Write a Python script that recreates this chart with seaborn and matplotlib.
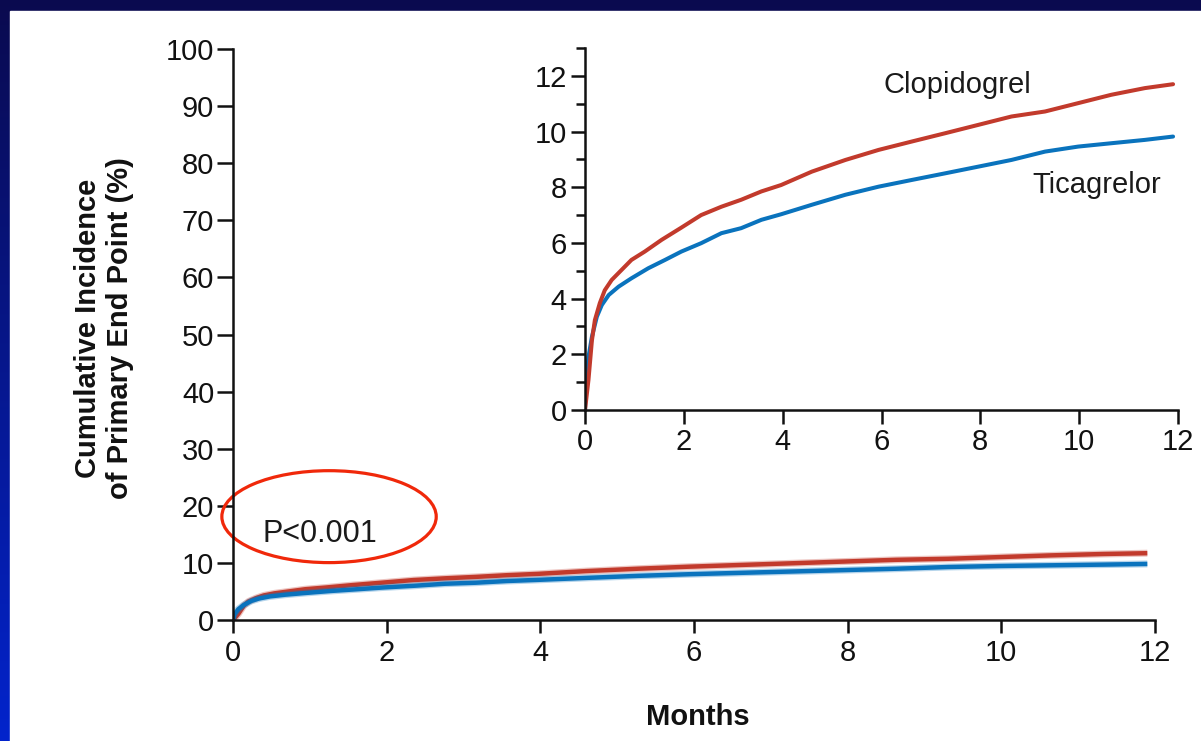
import numpy as np
import pandas as pd
import matplotlib
matplotlib.use("Agg")
import matplotlib.pyplot as plt
import matplotlib.patheffects as pe
from matplotlib.patches import Ellipse, Rectangle
from matplotlib import font_manager
import seaborn as sns

# Kaplan-Meier style cumulative incidence (%) by month, one curve per arm
clop_months = [0, 0.07, 0.14, 0.2, 0.3, 0.4, 0.54, 0.74, 0.94, 1.21, 1.55,
               1.95, 2.35, 2.76, 3.16, 3.57, 3.97, 4.59, 5.27, 5.94, 6.61,
               7.29, 7.96, 8.63, 9.31, 9.98, 10.65, 11.33, 11.9]
clopidogrel = [0, 1.08, 2.5, 3.23, 3.84, 4.3, 4.67, 5.03, 5.39, 5.69, 6.11,
               6.55, 7.0, 7.3, 7.55, 7.85, 8.08, 8.56, 8.98, 9.34, 9.64,
               9.94, 10.24, 10.54, 10.72, 11.02, 11.32, 11.56, 11.7]

tica_months = [0, 0.02, 0.07, 0.14, 0.24, 0.34, 0.48, 0.68, 0.94, 1.28, 1.62,
               1.95, 2.35, 2.76, 3.16, 3.57, 3.97, 4.59, 5.27, 5.94, 6.61,
               7.29, 7.96, 8.63, 9.31, 9.98, 10.65, 11.33, 11.9]
ticagrelor = [0, 1.0, 1.9, 2.63, 3.35, 3.77, 4.13, 4.43, 4.73, 5.09, 5.39,
              5.69, 5.99, 6.35, 6.53, 6.83, 7.03, 7.37, 7.73, 8.02, 8.26,
              8.5, 8.74, 8.98, 9.28, 9.46, 9.58, 9.7, 9.82]

series_names = ["Clopidogrel", "Ticagrelor"]
colors = {"Clopidogrel": "#c23a2c", "Ticagrelor": "#0a73bd"}

main_yticks = list(range(0, 101, 10))
main_xticks = list(range(0, 13, 2))
inset_yticks = list(range(0, 13, 2))
inset_yminor = list(range(1, 14, 2))
inset_xticks = list(range(0, 13, 2))

p_label = "P<0.001"

df = pd.DataFrame({
    "Months": clop_months + tica_months,
    "Incidence": clopidogrel + ticagrelor,
    "Group": [series_names[0]] * len(clop_months) + [series_names[1]] * len(tica_months),
})

sns.set_theme(style="ticks")
plt.rcParams["font.family"] = ["Liberation Sans", "DejaVu Sans"]


def has_font(name):
    try:
        font_manager.findfont(name, fallback_to_default=False)
        return True
    except Exception:
        return False


narrow = "Liberation Sans Narrow" if has_font("Liberation Sans Narrow") else "Liberation Sans"

W, H = 1201, 741
fig = plt.figure(figsize=(W / 100, H / 100), dpi=100)

# slide background: navy-to-blue gradient with a white panel
ax_bg = fig.add_axes([0, 0, 1, 1], zorder=-10)
top = np.array([0.04, 0.04, 0.31])
bottom = np.array([0.01, 0.14, 0.80])
t = np.linspace(0, 1, 256)[:, None, None]
grad = top * (1 - t) + bottom * t
ax_bg.imshow(grad, aspect="auto", extent=[0, 1, 0, 1], origin="upper")
ax_bg.add_patch(Rectangle((10 / W, 0), 1, (H - 11) / H, color="white",
                          transform=ax_bg.transAxes))
ax_bg.set_xlim(0, 1)
ax_bg.set_ylim(0, 1)
ax_bg.axis("off")

spine_lw = 1.8
tick_col = "#111111"

# ---- main axes ----
ax = fig.add_axes([233 / W, (H - 620) / H, 922 / W, 571 / H])
ax.set_facecolor("none")
sns.lineplot(data=df, x="Months", y="Incidence", hue="Group",
             hue_order=["Clopidogrel", "Ticagrelor"], palette=colors,
             estimator=None, sort=False, linewidth=3.2, legend=False, ax=ax)
for line in ax.lines:
    c = line.get_color()
    line.set_path_effects([pe.Stroke(linewidth=5.0, foreground=c, alpha=0.3),
                           pe.Normal()])
    line.set_solid_capstyle("butt")
    line.set_solid_joinstyle("round")
ax.set_xlim(0, 12)
ax.set_ylim(0, 100)
ax.set_xticks(main_xticks)
ax.set_yticks(main_yticks)
ax.set_xticklabels([str(v) for v in main_xticks])
ax.set_yticklabels([str(v) for v in main_yticks])
ax.set_xlabel("")
ax.set_ylabel("")
sns.despine(ax=ax)
for s in ("left", "bottom"):
    ax.spines[s].set_linewidth(spine_lw)
    ax.spines[s].set_color(tick_col)
ax.tick_params(axis="y", length=11.5, width=spine_lw, pad=2, labelsize=21,
               color=tick_col, labelcolor="#111111")
ax.tick_params(axis="x", length=9.5, width=spine_lw, pad=4, labelsize=21,
               color=tick_col, labelcolor="#111111")
for lab in ax.get_xticklabels() + ax.get_yticklabels():
    lab.set_fontfamily(["Liberation Sans", "DejaVu Sans"])

ax.text(0.39, 13.7, p_label, fontsize=22, color="#1a1a1a", va="baseline",
        ha="left")
ax.add_patch(Ellipse((1.25, 18.1), width=2.79, height=16.1, fill=False,
                     edgecolor="#f0280a", linewidth=2.3, clip_on=False))

fig.text(104 / W, 1 - 328 / H, "Cumulative Incidence\nof Primary End Point (%)",
         rotation=90, ha="center", va="center", fontsize=21, fontweight="bold",
         color="#111111", linespacing=1.2)
fig.text(698 / W, 1 - 725 / H, "Months", ha="center", va="baseline",
         fontsize=21, fontweight="bold", color="#111111")

# ---- inset axes (zoomed y-range) ----
ax_in = fig.add_axes([585 / W, (H - 410) / H, 593 / W, 362 / H])
ax_in.set_facecolor("white")
sns.lineplot(data=df, x="Months", y="Incidence", hue="Group",
             hue_order=["Ticagrelor", "Clopidogrel"], palette=colors,
             estimator=None, sort=False, linewidth=2.9, legend=False, ax=ax_in)
for line in ax_in.lines:
    line.set_solid_joinstyle("round")
ax_in.set_xlim(0, 12)
ax_in.set_ylim(0, 13)
ax_in.set_xticks(inset_xticks)
ax_in.set_yticks(inset_yticks)
ax_in.set_yticks(inset_yminor, minor=True)
ax_in.set_xticklabels([str(v) for v in inset_xticks])
ax_in.set_yticklabels([str(v) for v in inset_yticks])
ax_in.set_xlabel("")
ax_in.set_ylabel("")
sns.despine(ax=ax_in)
for s in ("left", "bottom"):
    ax_in.spines[s].set_linewidth(spine_lw)
    ax_in.spines[s].set_color(tick_col)
ax_in.tick_params(axis="both", which="major", length=10, width=spine_lw,
                  pad=3, labelsize=21, color=tick_col, labelcolor="#111111")
ax_in.tick_params(axis="y", which="minor", length=6.5, width=spine_lw,
                  color=tick_col)
for lab in ax_in.get_xticklabels() + ax_in.get_yticklabels():
    lab.set_fontfamily([narrow, "DejaVu Sans"])

ax_in.text(6.05, 11.39, "Clopidogrel", fontsize=21, color="#1a1a1a",
           ha="left", va="baseline")
ax_in.text(9.05, 7.80, "Ticagrelor", fontsize=21, color="#1a1a1a",
           ha="left", va="baseline")

fig.savefig("out.png", dpi=100)
